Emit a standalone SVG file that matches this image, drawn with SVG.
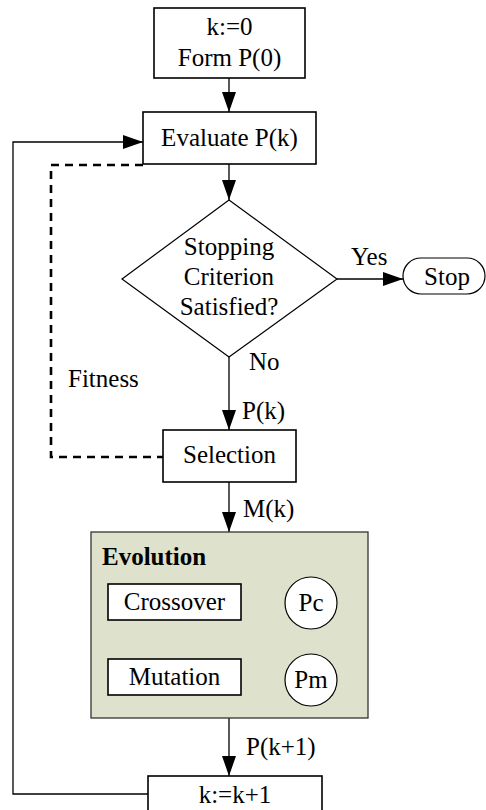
<svg xmlns="http://www.w3.org/2000/svg" width="486" height="810" viewBox="0 0 486 810">
<defs>
<marker id="ah" markerWidth="20" markerHeight="14" refX="20" refY="7" orient="auto" markerUnits="userSpaceOnUse">
<path d="M0,0 L20,7 L0,14 Z" fill="#000"/>
</marker>
<style>
.box{fill:#fff;stroke:#000;stroke-width:1.6}
text{font-family:'Liberation Serif','Times New Roman',serif;font-size:25px;fill:#000}
.t{text-anchor:middle}
.c{fill:none;stroke:#000;stroke-width:1.3}
.d{fill:none;stroke:#000;stroke-width:2.6;stroke-dasharray:8,6}
</style>
</defs>
<rect width="486" height="810" fill="#fff"/>
<g id="connectors">
<line class="c" x1="229" y1="78" x2="229" y2="112" marker-end="url(#ah)"/>
<line class="c" x1="229" y1="164" x2="229" y2="200" marker-end="url(#ah)"/>
<line class="c" x1="337" y1="279" x2="403" y2="279" marker-end="url(#ah)"/>
<line class="c" x1="229" y1="357" x2="229" y2="430" marker-end="url(#ah)"/>
<line class="c" x1="229" y1="482" x2="229" y2="532" marker-end="url(#ah)"/>
<line class="c" x1="229" y1="718" x2="229" y2="776" marker-end="url(#ah)"/>
<polyline class="c" points="148,794 13,794 13,142 143,142" marker-end="url(#ah)"/>
<polyline class="d" points="143,165 51,165 51,457 163,457"/>
<text x="351" y="265">Yes</text>
<text x="249" y="370">No</text>
<text x="68" y="387">Fitness</text>
<text x="242" y="419">P(k)</text>
<text x="243" y="517">M(k)</text>
<text x="246" y="755">P(k+1)</text>
</g>
<g id="init">
<rect class="box" x="154" y="8" width="151" height="70"/>
<text class="t" x="229.5" y="35">k:=0</text>
<text class="t" x="229.5" y="66">Form P(0)</text>
</g>
<g id="evaluate">
<rect class="box" x="143" y="112" width="173" height="52"/>
<text class="t" x="229.5" y="146">Evaluate P(k)</text>
</g>
<g id="decision">
<polygon class="box" style="stroke-width:1.2" points="229,200 337,279 229,357 122,279"/>
<text class="t" x="229" y="255">Stopping</text>
<text class="t" x="229" y="285">Criterion</text>
<text class="t" x="229" y="315">Satisfied?</text>
</g>
<g id="stop">
<rect class="box" style="stroke-width:1.2" x="403" y="258" width="82" height="36" rx="18" ry="18"/>
<text class="t" x="447" y="285">Stop</text>
</g>
<g id="selection">
<rect class="box" x="163" y="430" width="133" height="52"/>
<text class="t" x="229.5" y="463">Selection</text>
</g>
<g id="evolution">
<rect x="91" y="532" width="277" height="186" fill="#dee1cc" stroke="#333" stroke-width="1.3"/>
<text x="102" y="565" font-weight="bold">Evolution</text>
</g>
<g id="crossover">
<rect class="box" x="108" y="584" width="133" height="36"/>
<text class="t" x="174.5" y="610">Crossover</text>
</g>
<g id="pc">
<circle class="box" style="stroke-width:1.2" cx="311" cy="603" r="26"/>
<text class="t" x="311" y="611">Pc</text>
</g>
<g id="mutation">
<rect class="box" x="108" y="659" width="133" height="36"/>
<text class="t" x="174.5" y="685">Mutation</text>
</g>
<g id="pm">
<circle class="box" style="stroke-width:1.2" cx="311" cy="680" r="26"/>
<text class="t" x="311" y="688">Pm</text>
</g>
<g id="increment">
<rect class="box" x="148" y="776" width="174" height="40"/>
<text class="t" x="235" y="803">k:=k+1</text>
</g>
</svg>
